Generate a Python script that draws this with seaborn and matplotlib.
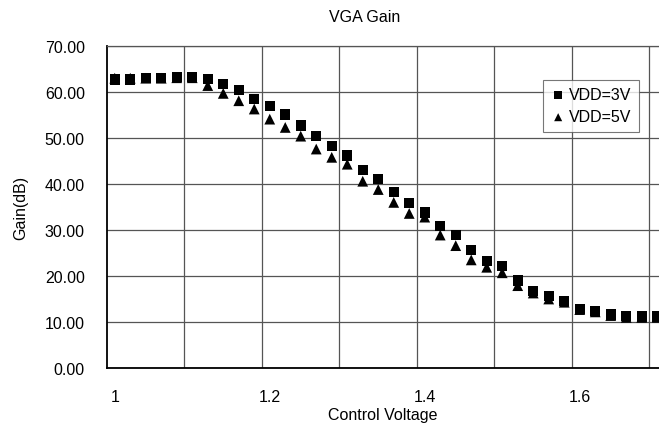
import numpy as np
import pandas as pd
import seaborn as sns
from matplotlib import pyplot as plt
from matplotlib.ticker import FixedLocator

# control voltage, 1.00 .. 1.70 in 0.02 steps
voltage = [1.00, 1.02, 1.04, 1.06, 1.08, 1.10, 1.12, 1.14, 1.16, 1.18,
           1.20, 1.22, 1.24, 1.26, 1.28, 1.30, 1.32, 1.34, 1.36, 1.38,
           1.40, 1.42, 1.44, 1.46, 1.48, 1.50, 1.52, 1.54, 1.56, 1.58,
           1.60, 1.62, 1.64, 1.66, 1.68, 1.70]
gain_3v = [62.7, 62.7, 63.0, 63.0, 63.2, 63.2, 62.8, 61.7, 60.5, 58.5,
           57.0, 55.1, 52.7, 50.4, 48.3, 46.2, 43.1, 41.1, 38.3, 35.8,
           33.8, 30.9, 28.9, 25.7, 23.3, 22.1, 19.0, 16.8, 15.6, 14.6,
           12.9, 12.4, 11.6, 11.3, 11.2, 11.2]
gain_5v = [63.0, 63.0, 63.0, 63.0, 63.1, 63.1, 61.4, 59.7, 58.1, 56.3,
           54.1, 52.3, 50.4, 47.6, 45.8, 44.3, 40.6, 38.8, 36.0, 33.6,
           32.8, 28.9, 26.6, 23.5, 21.9, 20.7, 17.9, 16.3, 15.0, 14.3,
           12.7, 12.2, 11.4, 11.0, 11.0, 11.0]
series = ['VDD=3V', 'VDD=5V']
x_ticks = [1.0, 1.2, 1.4, 1.6]
x_ticklabels = ['1', '1.2', '1.4', '1.6']


def main():
    df = pd.DataFrame({
        'voltage': voltage * 2,
        'gain': gain_3v + gain_5v,
        'series': [series[0]] * len(voltage) + [series[1]] * len(voltage),
    })

    sns.set_style('white')
    plt.rcParams['font.family'] = ['Liberation Sans', 'DejaVu Sans']
    plt.rcParams['font.size'] = 11
    plt.rcParams['text.color'] = 'black'
    plt.rcParams['axes.labelcolor'] = 'black'
    plt.rcParams['xtick.color'] = 'black'
    plt.rcParams['ytick.color'] = 'black'

    fig = plt.figure(figsize=(6.59, 4.31), dpi=100)
    ax = fig.add_axes([107 / 659, 1 - 369 / 431, 1 - 107 / 659, (369 - 47) / 431])

    # triangles first so the squares sit on top
    sns.scatterplot(data=df[df.series == series[1]], x='voltage', y='gain',
                    marker='^', color='black', s=60, edgecolor='none',
                    label=series[1], ax=ax, zorder=3)
    sns.scatterplot(data=df[df.series == series[0]], x='voltage', y='gain',
                    marker='s', color='black', s=55, edgecolor='none',
                    label=series[0], ax=ax, zorder=4)

    ax.set_xlim(0.99, 1.7023)
    ax.set_ylim(0, 70)
    ax.set_yticks(np.arange(0, 71, 10))
    ax.set_yticklabels(['%.2f' % v for v in np.arange(0, 71, 10)])
    ax.set_xticks(x_ticks)
    ax.set_xticklabels(x_ticklabels)
    ax.xaxis.set_minor_locator(FixedLocator(np.arange(1.09, 1.70, 0.1)))
    ax.tick_params(axis='x', which='both', length=0, pad=15, labelsize=11.5)
    ax.tick_params(axis='y', length=0, pad=16, labelsize=11.5)

    ax.grid(axis='y', which='major', color='#555555', lw=0.9)
    ax.grid(axis='x', which='minor', color='#555555', lw=0.9)
    ax.grid(axis='x', which='major', visible=False)

    for side in ['left', 'bottom']:
        ax.spines[side].set_color('black')
        ax.spines[side].set_linewidth(1.3)
    ax.spines['top'].set_color('#555555')
    ax.spines['top'].set_linewidth(0.9)
    ax.spines['right'].set_visible(False)

    ax.set_xlabel('Control Voltage', fontsize=11.5, labelpad=2)
    ax.set_ylabel('Gain(dB)', fontsize=11.5, labelpad=12)

    handles, labels = ax.get_legend_handles_labels()
    order = [labels.index(s) for s in series]
    leg = ax.legend([handles[i] for i in order], [labels[i] for i in order],
                    loc='upper left', bbox_to_anchor=((543 - 107) / 552, 1 - (81 - 47) / 322),
                    borderaxespad=0, frameon=True, fancybox=False, fontsize=11.5,
                    handletextpad=0.2, handlelength=1.0, borderpad=0.45,
                    labelspacing=0.45, markerscale=0.75)
    leg.get_frame().set_edgecolor('#555555')
    leg.get_frame().set_linewidth(0.8)

    fig.text(365 / 659, 1 - 17 / 431, 'VGA Gain', ha='center', va='center', fontsize=11.5)

    fig.savefig('out.png', dpi=100)


if __name__ == '__main__':
    main()
